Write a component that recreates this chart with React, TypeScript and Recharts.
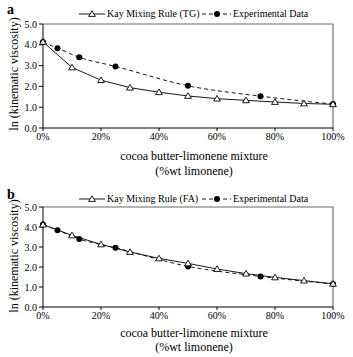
import { Line, LineChart, ReferenceLine, XAxis, YAxis } from 'recharts'

// composition, %wt limonene
const kayX = [0, 10, 20, 30, 40, 50, 60, 70, 80, 90, 100]
const expX = [0, 5, 12.5, 25, 50, 75, 100]

// ln(kinematic viscosity)
const kayTG = [4.14, 2.91, 2.3, 1.94, 1.72, 1.54, 1.41, 1.33, 1.25, 1.18, 1.14]
const kayFA = [4.12, 3.58, 3.13, 2.75, 2.43, 2.18, 1.9, 1.67, 1.48, 1.32, 1.16]
const expData = [4.13, 3.84, 3.4, 2.96, 2.03, 1.53, 1.15]

const xTicks = [0, 20, 40, 60, 80, 100]
const yTicks = [0, 1, 2, 3, 4, 5]

const font = '"Liberation Serif", "Times New Roman", serif'

if (typeof document !== 'undefined') document.body.style.margin = '0'

const toRows = (xs: number[], ys: number[]) => xs.map((x, i) => ({ x, y: ys[i] }))

function Triangle(props: any) {
  const { cx, cy } = props
  if (cx == null || cy == null) return null
  return (
    <path
      d={`M${cx},${cy - 3.2} L${cx + 3.4},${cy + 2.4} L${cx - 3.4},${cy + 2.4} Z`}
      fill="#fff"
      stroke="#000"
      strokeWidth={0.9}
    />
  )
}

function Dot(props: any) {
  const { cx, cy } = props
  if (cx == null || cy == null) return null
  return <circle cx={cx} cy={cy} r={3} fill="#000" />
}

function Panel({ kay, top, plotH }: { kay: number[]; top: number; plotH: number }) {
  return (
    <div style={{ position: 'absolute', left: 0, top }}>
      <LineChart width={353} height={24 + plotH + 20} margin={{ top: 24, right: 20, bottom: 0, left: 0 }}>
        <XAxis
          type="number"
          dataKey="x"
          domain={[0, 100]}
          ticks={xTicks}
          tickFormatter={(v) => `${v}%`}
          height={20}
          stroke="#000"
          tickSize={3}
          tickMargin={2}
          tick={{ fill: '#000', fontSize: 10, fontFamily: font }}
        />
        <YAxis
          type="number"
          domain={[0, 5]}
          ticks={yTicks}
          tickFormatter={(v) => Number(v).toFixed(1)}
          width={43}
          stroke="#000"
          tickSize={4}
          tickMargin={2}
          tick={{ fill: '#000', fontSize: 10, fontFamily: font }}
        />
        <ReferenceLine y={5} stroke="#9a9a9a" strokeWidth={1.6} />
        <ReferenceLine x={100} stroke="#555" strokeWidth={1} />
        <Line
          data={toRows(expX, expData)}
          dataKey="y"
          type="monotone"
          stroke="#000"
          strokeWidth={0.9}
          strokeDasharray="4 3"
          dot={<Dot />}
          isAnimationActive={false}
        />
        <Line
          data={toRows(kayX, kay)}
          dataKey="y"
          type="linear"
          stroke="#000"
          strokeWidth={0.9}
          dot={<Triangle />}
          isAnimationActive={false}
        />
      </LineChart>
    </div>
  )
}

function Legend({ top, name }: { top: number; name: string }) {
  const txt = { position: 'absolute' as const, top: top - 7, fontSize: 10, fontFamily: font, lineHeight: '14px', whiteSpace: 'nowrap' as const }
  return (
    <>
      <svg style={{ position: 'absolute', left: 78, top: top - 5 }} width={28} height={10}>
        <line x1={1} y1={5} x2={27} y2={5} stroke="#000" strokeWidth={0.9} />
        <path d="M14,1.8 L17.4,7.4 L10.6,7.4 Z" fill="#fff" stroke="#000" strokeWidth={0.9} />
      </svg>
      <div style={{ ...txt, left: 107 }}>{name}</div>
      <svg style={{ position: 'absolute', left: 201, top: top - 5 }} width={31} height={10}>
        <line x1={1} y1={5} x2={30} y2={5} stroke="#000" strokeWidth={0.9} strokeDasharray="4 3" />
        <circle cx={16} cy={5} r={3} fill="#000" />
      </svg>
      <div style={{ ...txt, left: 233 }}>Experimental Data</div>
    </>
  )
}

function Titles({ letter, letterTop, yMid, t1, t2 }: { letter: string; letterTop: number; yMid: number; t1: number; t2: number }) {
  const line = { position: 'absolute' as const, left: 94, width: 200, textAlign: 'center' as const, fontSize: 12, fontFamily: font, lineHeight: '14px' }
  return (
    <>
      <div style={{ position: 'absolute', left: 7, top: letterTop - 8, fontSize: 14, fontWeight: 'bold', fontFamily: font, lineHeight: '16px' }}>
        {letter}
      </div>
      <div
        style={{
          position: 'absolute',
          left: 14 - 70,
          top: yMid - 7,
          width: 140,
          textAlign: 'center',
          transform: 'rotate(-90deg)',
          fontSize: 12,
          fontFamily: font,
          lineHeight: '14px',
          whiteSpace: 'nowrap',
        }}
      >
        ln (kinematic viscosity)
      </div>
      <div style={{ ...line, top: t1 - 7 }}>cocoa butter-limonene mixture</div>
      <div style={{ ...line, top: t2 - 7 }}>(%wt limonene)</div>
    </>
  )
}

export default function App() {
  return (
    <div style={{ position: 'relative', width: 353, height: 357, background: '#fff', overflow: 'hidden' }}>
      <Panel kay={kayTG} top={0} plotH={104} />
      <Panel kay={kayFA} top={183} plotH={100} />
      <Legend top={14} name="Kay Mixing Rule (TG)" />
      <Legend top={199} name="Kay Mixing Rule (FA)" />
      <Titles letter="a" letterTop={10} yMid={74} t1={156} t2={171} />
      <Titles letter="b" letterTop={195} yMid={256} t1={333} t2={347} />
    </div>
  )
}
